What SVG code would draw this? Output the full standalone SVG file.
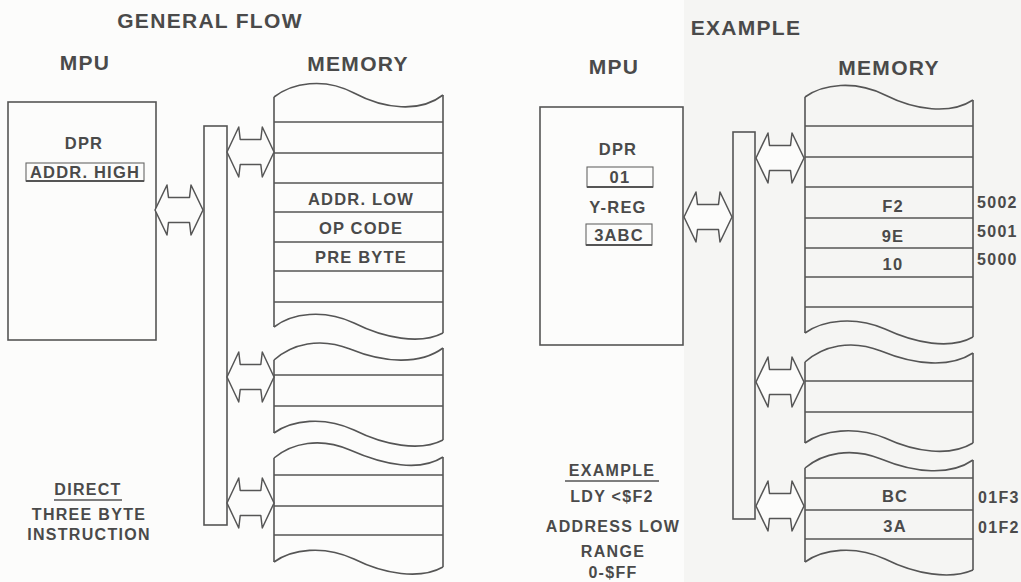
<svg xmlns="http://www.w3.org/2000/svg" width="1021" height="582" viewBox="0 0 1021 582">
<style>
.bg{fill:#fcfcfb}
.bg2{fill:#f5f5f3}
.ln{fill:none;stroke:#555;stroke-width:1.6}
.box{fill:none;stroke:#555;stroke-width:1.6}
.rb{fill:none;stroke:#666;stroke-width:1.1}
.ul{stroke:#555;stroke-width:2}
.arr{fill:#fcfcfb;stroke:#555;stroke-width:1.5;stroke-linejoin:round}
.t{font-family:"Liberation Sans",Arial,Helvetica,sans-serif;font-weight:bold;fill:#4a4a4a;text-anchor:middle}
.h{font-size:21px;letter-spacing:1.3px}
.m{font-size:16.5px;letter-spacing:1.2px}
.s{font-size:16px;letter-spacing:1.3px}
.a{text-anchor:start}
</style>
<defs>
<path id="dbl" class="arr" d="M0,0 L12,-25 L13.5,-12.5 L34.5,-12.5 L36,-25 L48,0 L36,25 L34.5,12.5 L13.5,12.5 L12,25 Z"/>
</defs>
<rect class="bg" x="0" y="0" width="1021" height="582"/>
<rect class="bg2" x="684" y="0" width="337" height="582"/>

<g id="titles">
<text class="t h" x="210" y="28">GENERAL FLOW</text>
<text class="t h" x="746" y="35">EXAMPLE</text>
</g>

<!-- LEFT: GENERAL FLOW -->
<g id="mpu-left">
<text class="t h" x="85" y="70">MPU</text>
<rect class="box" x="8" y="102" width="148" height="238"/>
<text class="t m" x="84" y="149">DPR</text>
<rect class="rb" x="26" y="163" width="118" height="18"/>
<line class="ul" x1="26" y1="181" x2="144" y2="181"/>
<text class="t m" x="85" y="178">ADDR. HIGH</text>
</g>

<g id="bus-left">
<rect class="box" x="204" y="126" width="23" height="399"/>
</g>

<g id="memory-left">
<text class="t h" x="358" y="71">MEMORY</text>
<path class="ln" d="M274,97 C292,83 324,77 354,93 C384,109 420,113 443,95"/>
<path class="ln" d="M274,97 V327 M443,95 V333"/>
<path class="ln" d="M274,327 C292,313 324,309 354,323 C384,338 420,345 443,333"/>
<path class="ln" d="M274,122 H443 M274,153 H443 M274,183 H443 M274,212 H443 M274,242 H443 M274,271 H443 M274,302 H443"/>
<text class="t m" x="361" y="205">ADDR. LOW</text>
<text class="t m" x="361" y="234">OP CODE</text>
<text class="t m" x="361" y="263">PRE BYTE</text>
<path class="ln" d="M274,360 C292,344 320,337 350,349 C384,363 420,365 443,348"/>
<path class="ln" d="M274,360 V433 M443,348 V440"/>
<path class="ln" d="M274,375 H443 M274,406 H443"/>
<path class="ln" d="M274,433 C292,420 324,416 354,430 C384,445 420,452 443,440"/>
<path class="ln" d="M274,458 C292,443 320,437 350,450 C384,465 420,472 443,457"/>
<path class="ln" d="M274,458 V562 M443,457 V567"/>
<path class="ln" d="M274,475 H443 M274,506 H443 M274,535 H443"/>
<path class="ln" d="M274,562 C292,549 324,545 354,559 C384,574 420,580 443,567"/>
</g>

<g id="caption-left">
<text class="t s" x="88" y="495">DIRECT</text>
<line class="ul" x1="54" y1="500" x2="122" y2="500" style="stroke-width:1.5"/>
<text class="t s" x="89" y="520">THREE BYTE</text>
<text class="t s" x="89" y="540">INSTRUCTION</text>
</g>

<!-- RIGHT: EXAMPLE -->
<g id="mpu-right">
<text class="t h" x="614" y="74">MPU</text>
<rect class="box" x="540" y="107" width="143" height="238"/>
<text class="t m" x="618" y="155">DPR</text>
<rect class="rb" x="587" y="167" width="66" height="20"/>
<line class="ul" x1="587" y1="187" x2="653" y2="187"/>
<text class="t m" x="620" y="183">01</text>
<text class="t m" x="618" y="213">Y-REG</text>
<rect class="rb" x="586" y="224" width="66" height="21"/>
<line class="ul" x1="586" y1="245" x2="652" y2="245"/>
<text class="t m" x="619" y="241">3ABC</text>
</g>

<g id="bus-right">
<rect class="box" x="733" y="132" width="22" height="387"/>
</g>

<g id="memory-right">
<text class="t h" x="889" y="75">MEMORY</text>
<path class="ln" d="M805,97 C823,84 855,80 885,95 C915,110 950,115 973,100"/>
<path class="ln" d="M805,97 V333 M973,100 V337"/>
<path class="ln" d="M805,333 C823,320 855,316 885,329 C915,343 950,350 973,337"/>
<path class="ln" d="M805,126 H973 M805,157 H973 M805,187 H973 M805,218 H973 M805,248 H973 M805,277 H973 M805,307 H973"/>
<text class="t m" x="893" y="212">F2</text>
<text class="t m" x="893" y="242">9E</text>
<text class="t m" x="893" y="270">10</text>
<path class="ln" d="M805,362 C823,346 851,339 881,351 C915,365 950,368 973,353"/>
<path class="ln" d="M805,362 V443 M973,353 V443"/>
<path class="ln" d="M805,381 H973 M805,412 H973"/>
<path class="ln" d="M805,443 C823,430 855,426 885,438 C915,452 950,457 973,443"/>
<path class="ln" d="M805,468 C823,453 851,447 881,459 C915,473 950,476 973,460"/>
<path class="ln" d="M805,468 V562 M973,460 V570"/>
<path class="ln" d="M805,478 H973 M805,510 H973 M805,539 H973"/>
<path class="ln" d="M805,562 C823,549 855,545 885,559 C915,574 950,580 973,570"/>
<text class="t m" x="895" y="502">BC</text>
<text class="t m" x="895" y="532">3A</text>
</g>

<g id="addresses">
<text class="t s a" x="977" y="208">5002</text>
<text class="t s a" x="977" y="237">5001</text>
<text class="t s a" x="977" y="265">5000</text>
<text class="t s a" x="978" y="503">01F3</text>
<text class="t s a" x="978" y="533">01F2</text>
</g>

<g id="caption-right">
<text class="t s" x="612" y="476">EXAMPLE</text>
<line class="ul" x1="565" y1="481" x2="659" y2="481" style="stroke-width:1.5"/>
<text class="t s" x="612" y="502">LDY &lt;$F2</text>
<text class="t s" x="613" y="532">ADDRESS LOW</text>
<text class="t s" x="613" y="557">RANGE</text>
<text class="t s" x="613" y="578">0-$FF</text>
</g>

<g id="connectors">
<use href="#dbl" transform="translate(155,210)"/>
<use href="#dbl" transform="translate(227,152) scale(0.98,1)"/>
<use href="#dbl" transform="translate(227,377) scale(0.98,1)"/>
<use href="#dbl" transform="translate(227,503) scale(0.98,1)"/>
<use href="#dbl" transform="translate(684,217)"/>
<use href="#dbl" transform="translate(756,158)"/>
<use href="#dbl" transform="translate(756,382)"/>
<use href="#dbl" transform="translate(756,506)"/>
</g>
</svg>
